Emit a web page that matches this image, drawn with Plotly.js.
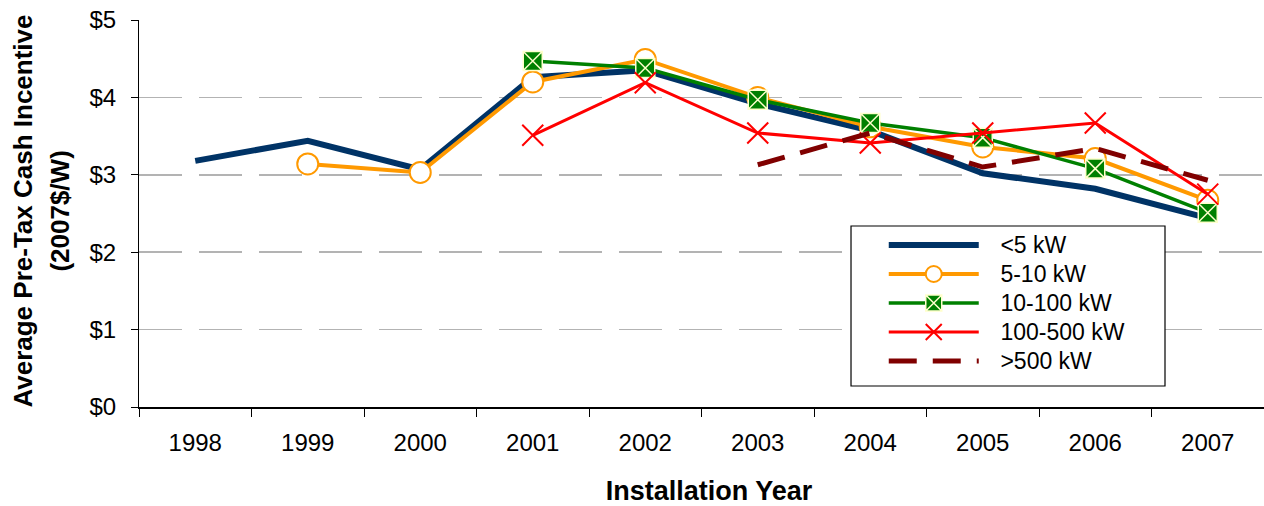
<!DOCTYPE html>
<html>
<head>
<meta charset="utf-8">
<script src="https://cdn.plot.ly/plotly-3.0.1.min.js"></script>
<style>html,body{margin:0;padding:0;background:#fff;}#chart{width:1264px;height:506px;}</style>
</head>
<body>
<div id="chart"></div>
<script>
const years = ["1998","1999","2000","2001","2002","2003","2004","2005","2006","2007"];
const seriesNames = ["<5 kW","5-10 kW","10-100 kW","100-500 kW",">500 kW"];
const lt5 =      [3.18, 3.44, 3.07, 4.26, 4.35, 3.92, 3.57, 3.02, 2.82, 2.44];
const kw5to10 =  [null, 3.14, 3.03, 4.20, 4.49, 4.00, 3.62, 3.36, 3.21, 2.67];
const kw10to100 =[null, null, null, 4.47, 4.38, 3.97, 3.67, 3.48, 3.08, 2.51];
const kw100to500=[null, null, null, 3.51, 4.19, 3.54, 3.41, 3.54, 3.67, 2.75];
const gt500 =    [null, null, null, null, null, 3.13, 3.54, 3.10, 3.34, 2.93];
const yTickVals = [0,1,2,3,4,5];
const yTickText = ["$0","$1","$2","$3","$4","$5"];

const FONT = "Liberation Sans, Arial, sans-serif";
const PAD = "\u00a0\u00a0\u00a0";
function legName(s) { return PAD + '<span style="font-size:23px">' + s + '</span>'; }
const traces = [
  {x: years, y: lt5, name: legName(seriesNames[0]), mode: "lines",
   line: {color: "#003366", width: 6}},
  {x: years, y: kw5to10, name: legName(seriesNames[1]), mode: "lines+markers",
   line: {color: "#FF9900", width: 4},
   marker: {symbol: "circle", size: 21, color: "#FFFFFF", line: {color: "#FF9900", width: 2}}},
  {x: years, y: kw10to100, name: legName(seriesNames[2]), mode: "lines+markers",
   line: {color: "#008000", width: 3.5},
   marker: {symbol: "square-x", size: 19, color: "#008000", line: {color: "#FFFFCC", width: 1.5}}},
  {x: years, y: kw100to500, name: legName(seriesNames[3]), mode: "lines+markers",
   line: {color: "#FF0000", width: 3},
   marker: {symbol: "x-thin", size: 21, color: "#FF0000", line: {color: "#FF0000", width: 2}}},
  {x: years, y: gt500, name: legName(seriesNames[4]), mode: "lines",
   line: {color: "#800000", width: 5, dash: "28px,16px"}}
];

const layout = {
  width: 1264, height: 506,
  margin: {l: 139, r: 0, t: 20, b: 99},
  paper_bgcolor: "#FFFFFF", plot_bgcolor: "#FFFFFF",
  font: {family: FONT, color: "#000000"},
  showlegend: true,
  xaxis: {
    type: "category", range: [-0.5, 9.5],
    tickson: "boundaries", ticks: "outside", ticklen: 8, tickcolor: "#000", tickwidth: 1,
    showline: true, linecolor: "#000", linewidth: 1.5,
    showgrid: false, zeroline: false,
    tickfont: {family: FONT, size: 24, color: "#000"},
    ticklabelstandoff: 14,
    title: {text: "<b>\u00a0\u00a0Installation Year</b>", font: {family: FONT, size: 27, color: "#000"}, standoff: 30}
  },
  yaxis: {
    range: [0, 5], tickvals: yTickVals, ticktext: yTickText,
    ticks: "outside", ticklen: 7, tickcolor: "#000", tickwidth: 1,
    showline: true, linecolor: "#000", linewidth: 1,
    showgrid: true, gridcolor: "#B3B3B3", gridwidth: 1.5, griddash: "43px,17px",
    zeroline: false,
    tickfont: {family: FONT, size: 24, color: "#000"},
    ticklabelstandoff: 10
  },
  legend: {
    x: 0.662, y: 0.469, xanchor: "left", yanchor: "top",
    bgcolor: "rgba(0,0,0,0)", borderwidth: 0,
    font: {family: FONT, size: 20, color: "#000"},
    itemwidth: 90, tracegroupgap: 0
  },
  shapes: [
    {type: "rect", xref: "paper", yref: "paper", x0: 0.6329, x1: 0.912, y0: 0.0543, y1: 0.4677,
     line: {color: "#000", width: 1.2}, fillcolor: "#FFFFFF", layer: "above"}
  ],
  annotations: [
    {text: "<b>Average Pre-Tax Cash Incentive</b>", xref: "paper", yref: "paper",
     x: -0.1031, y: 0.505, textangle: -90, showarrow: false, xanchor: "center", yanchor: "middle",
     font: {family: FONT, size: 26, color: "#000"}},
    {text: "<b>(2007$/W)</b>", xref: "paper", yref: "paper",
     x: -0.0702, y: 0.505, textangle: -90, showarrow: false, xanchor: "center", yanchor: "middle",
     font: {family: FONT, size: 26, color: "#000"}}
  ]
};

Plotly.newPlot("chart", traces, layout, {displayModeBar: false, staticPlot: true});
</script>
</body>
</html>
